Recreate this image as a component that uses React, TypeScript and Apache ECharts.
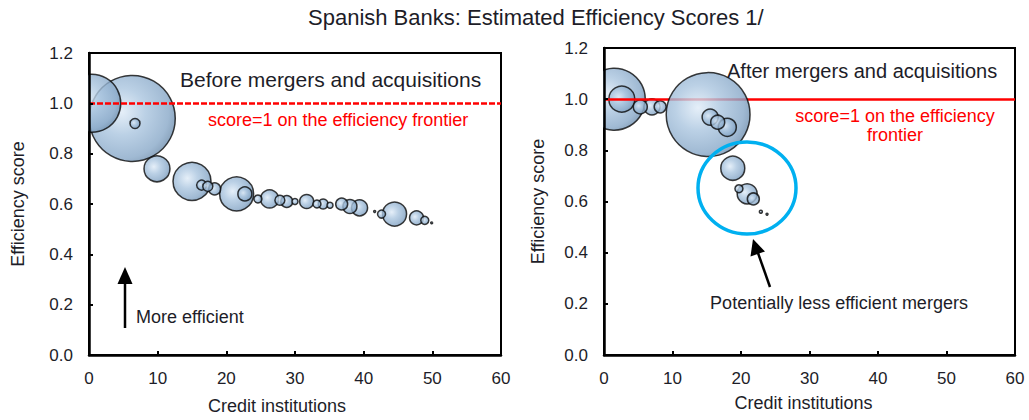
import React, { useEffect, useRef } from "react";
import * as echarts from "echarts";

// ---------- data ----------
const TITLE = "Spanish Banks: Estimated Efficiency Scores 1/";
const X_TICKS = [0, 10, 20, 30, 40, 50, 60];
const Y_TICKS = [0, 0.2, 0.4, 0.6, 0.8, 1.0, 1.2];
const FRONTIER_SCORE = 1;

// Before mergers and acquisitions
const beforeInstitution = [0.4, 6.3, 6.7, 9.9, 15.0, 16.4, 17.3, 18.3, 21.5, 22.7, 24.6, 26.3, 27.8, 28.8, 30.0, 31.7, 33.2, 34.1, 35.1, 36.8, 38.0, 39.4, 41.6, 42.6, 44.5, 47.7, 48.9, 49.9];
const beforeScore = [1.0, 0.94, 0.92, 0.74, 0.69, 0.675, 0.67, 0.66, 0.64, 0.64, 0.62, 0.62, 0.615, 0.61, 0.61, 0.61, 0.6, 0.6, 0.595, 0.6, 0.59, 0.585, 0.57, 0.56, 0.56, 0.545, 0.535, 0.525];
const beforeAssets = [45.5, 100, 1.35, 9.1, 19.5, 1.35, 1.35, 1.95, 15.6, 2.65, 0.87, 4.4, 1.35, 1.95, 0.49, 2.65, 0.87, 1.35, 0.49, 1.95, 2.65, 3.5, 0.05, 0.87, 7.8, 2.65, 0.87, 0.05];

// After mergers and acquisitions
const afterInstitution = [1.5, 2.6, 5.3, 7.0, 8.2, 15.2, 15.5, 16.6, 18.0, 18.8, 19.7, 20.9, 21.8, 22.9, 23.8];
const afterScore = [1.0, 1.0, 0.97, 0.97, 0.97, 0.94, 0.93, 0.91, 0.89, 0.73, 0.65, 0.63, 0.61, 0.56, 0.55];
const afterAssets = [52, 9.1, 2.65, 3.5, 1.95, 95, 3.5, 2.65, 4.4, 7.8, 0.87, 5.4, 1.95, 0.12, 0.05];

// ---------- styling ----------
const FONT = '"Liberation Sans", Arial, Helvetica, sans-serif';
const TEXT = "#1d1d28";
const RED = "#ff0000";
const SIZE_K = 8.6;

function bubbles(xs: number[], ys: number[], sz: number[], keep: (x: number) => boolean) {
  const items = xs
    .map((x, i) => ({ value: [x, ys[i], sz[i]] }))
    .filter((d) => keep(d.value[0]));
  items.sort((a, b) => b.value[2] - a.value[2]);
  return items;
}

const bubbleStyle = {
  color: new echarts.graphic.RadialGradient(0.38, 0.42, 0.68, [
    { offset: 0, color: "#dfebf7" },
    { offset: 0.4, color: "#aac5df" },
    { offset: 0.8, color: "#88a8c8" },
    { offset: 1, color: "#6686a6" },
  ]),
  borderColor: "#0a0a0a",
  borderWidth: 1.5,
};

function xAxis(gridIndex: number, nameGap: number, shift: number) {
  return {
    type: "value",
    gridIndex,
    min: X_TICKS[0],
    max: X_TICKS[X_TICKS.length - 1],
    interval: X_TICKS[1] - X_TICKS[0],
    name: "Credit institutions",
    nameLocation: "middle",
    nameGap,
    nameTextStyle: { fontFamily: FONT, fontSize: 18, color: TEXT, padding: [0, shift, 0, 0] },
    axisLine: { show: true, onZero: false, lineStyle: { color: "#000", width: 2.5 } },
    axisTick: { show: true, inside: true, length: 4, lineStyle: { color: "#000", width: 2 } },
    axisLabel: { fontFamily: FONT, fontSize: 17, color: TEXT, margin: 15 },
    splitLine: { show: false },
    z: 10,
  };
}

function yAxis(gridIndex: number, nameGap: number) {
  return {
    type: "value",
    gridIndex,
    min: Y_TICKS[0],
    max: Y_TICKS[Y_TICKS.length - 1],
    interval: Y_TICKS[1] - Y_TICKS[0],
    name: "Efficiency score",
    nameLocation: "middle",
    nameRotate: 90,
    nameGap,
    nameTextStyle: { fontFamily: FONT, fontSize: 18, color: TEXT },
    axisLine: { show: true, onZero: false, lineStyle: { color: "#000", width: 2.5 } },
    axisTick: { show: true, inside: true, length: 4, lineStyle: { color: "#000", width: 2 } },
    axisLabel: { fontFamily: FONT, fontSize: 17, color: TEXT, margin: 16, formatter: (v: number) => v.toFixed(1) },
    splitLine: { show: false },
    z: 10,
  };
}

function frontierLine(type: any, z: number) {
  return {
    silent: true,
    symbol: "none",
    label: { show: false },
    lineStyle: { color: RED, width: 2.5, type },
    data: [{ yAxis: FRONTIER_SCORE }],
    z,
  };
}

export default function App() {
  const ref = useRef<HTMLDivElement>(null);

  useEffect(() => {
    if (!ref.current) return;
    const chart = echarts.init(ref.current, undefined, { renderer: "svg" });
    const symbolSize = (v: number[]) => SIZE_K * Math.sqrt(v[2]);

    chart.setOption({
      animation: false,
      backgroundColor: "#fff",
      title: {
        text: TITLE,
        left: 308,
        top: 6,
        padding: 0,
        textStyle: { fontFamily: FONT, fontSize: 22, fontWeight: "normal", color: TEXT },
      },
      grid: [
        { left: 89, top: 53, width: 412, height: 306, show: true, borderColor: "#000", borderWidth: 2, backgroundColor: "transparent" },
        { left: 604, top: 48, width: 411, height: 307, show: true, borderColor: "#000", borderWidth: 2, backgroundColor: "transparent" },
      ],
      xAxis: [xAxis(0, 42, 36), xAxis(1, 39, 12)],
      yAxis: [yAxis(0, 62), yAxis(1, 57)],
      series: [
        {
          type: "scatter",
          name: "Before",
          xAxisIndex: 0,
          yAxisIndex: 0,
          z: 2,
          symbolSize,
          itemStyle: bubbleStyle,
          data: bubbles(beforeInstitution, beforeScore, beforeAssets, () => true),
          markLine: frontierLine([6, 2], 5),
        },
        {
          type: "scatter",
          name: "After (frontier cluster)",
          xAxisIndex: 1,
          yAxisIndex: 1,
          z: 2,
          symbolSize,
          itemStyle: bubbleStyle,
          data: bubbles(afterInstitution, afterScore, afterAssets, (x) => x < 10),
          markLine: frontierLine("solid", 5),
        },
        {
          type: "scatter",
          name: "After",
          xAxisIndex: 1,
          yAxisIndex: 1,
          z: 6,
          symbolSize,
          itemStyle: bubbleStyle,
          data: bubbles(afterInstitution, afterScore, afterAssets, (x) => x >= 10),
        },
      ],
      graphic: [
        // clip bubbles at the left edge of each plot area
        { type: "rect", z: 7, shape: { x: 55, y: 53, width: 33, height: 306 }, style: { fill: "#fff" } },
        { type: "rect", z: 7, shape: { x: 560, y: 48, width: 43, height: 307 }, style: { fill: "#fff" } },
        // left panel annotations
        { type: "text", z: 12, x: 180, y: 79, style: { text: "Before mergers and acquisitions", fontFamily: FONT, fontSize: 21, fill: TEXT, align: "left", verticalAlign: "middle" } },
        { type: "text", z: 12, x: 208, y: 120, style: { text: "score=1 on the efficiency frontier", fontFamily: FONT, fontSize: 18, fill: RED, align: "left", verticalAlign: "middle" } },
        { type: "line", z: 12, shape: { x1: 125, y1: 328, x2: 125, y2: 281 }, style: { stroke: "#000", lineWidth: 2.5 } },
        { type: "polygon", z: 12, shape: { points: [[125, 267], [117.5, 284], [132.5, 284]] }, style: { fill: "#000" } },
        { type: "text", z: 12, x: 136, y: 317, style: { text: "More efficient", fontFamily: FONT, fontSize: 18, fill: TEXT, align: "left", verticalAlign: "middle" } },
        // right panel annotations
        { type: "text", z: 12, x: 727, y: 71, style: { text: "After mergers and acquisitions", fontFamily: FONT, fontSize: 20, fill: TEXT, align: "left", verticalAlign: "middle" } },
        { type: "text", z: 12, x: 895, y: 116, style: { text: "score=1 on the efficiency", fontFamily: FONT, fontSize: 18, fill: RED, align: "center", verticalAlign: "middle" } },
        { type: "text", z: 12, x: 895, y: 135, style: { text: "frontier", fontFamily: FONT, fontSize: 18, fill: RED, align: "center", verticalAlign: "middle" } },
        { type: "ellipse", z: 12, shape: { cx: 747, cy: 188, rx: 49, ry: 46 }, style: { fill: "none", stroke: "#00b0f0", lineWidth: 3.5 } },
        { type: "line", z: 12, shape: { x1: 770, y1: 287, x2: 758, y2: 253 }, style: { stroke: "#000", lineWidth: 2.5 } },
        { type: "polygon", z: 12, shape: { points: [[753, 239], [765, 251.5], [750.5, 256.5]] }, style: { fill: "#000" } },
        { type: "text", z: 12, x: 839, y: 303, style: { text: "Potentially less efficient mergers", fontFamily: FONT, fontSize: 18, fill: TEXT, align: "center", verticalAlign: "middle" } },
      ],
    });

    return () => chart.dispose();
  }, []);

  return (
    <div
      ref={ref}
      style={{ position: "absolute", left: 0, top: 0, width: 1029, height: 420, background: "#fff" }}
    />
  );
}
